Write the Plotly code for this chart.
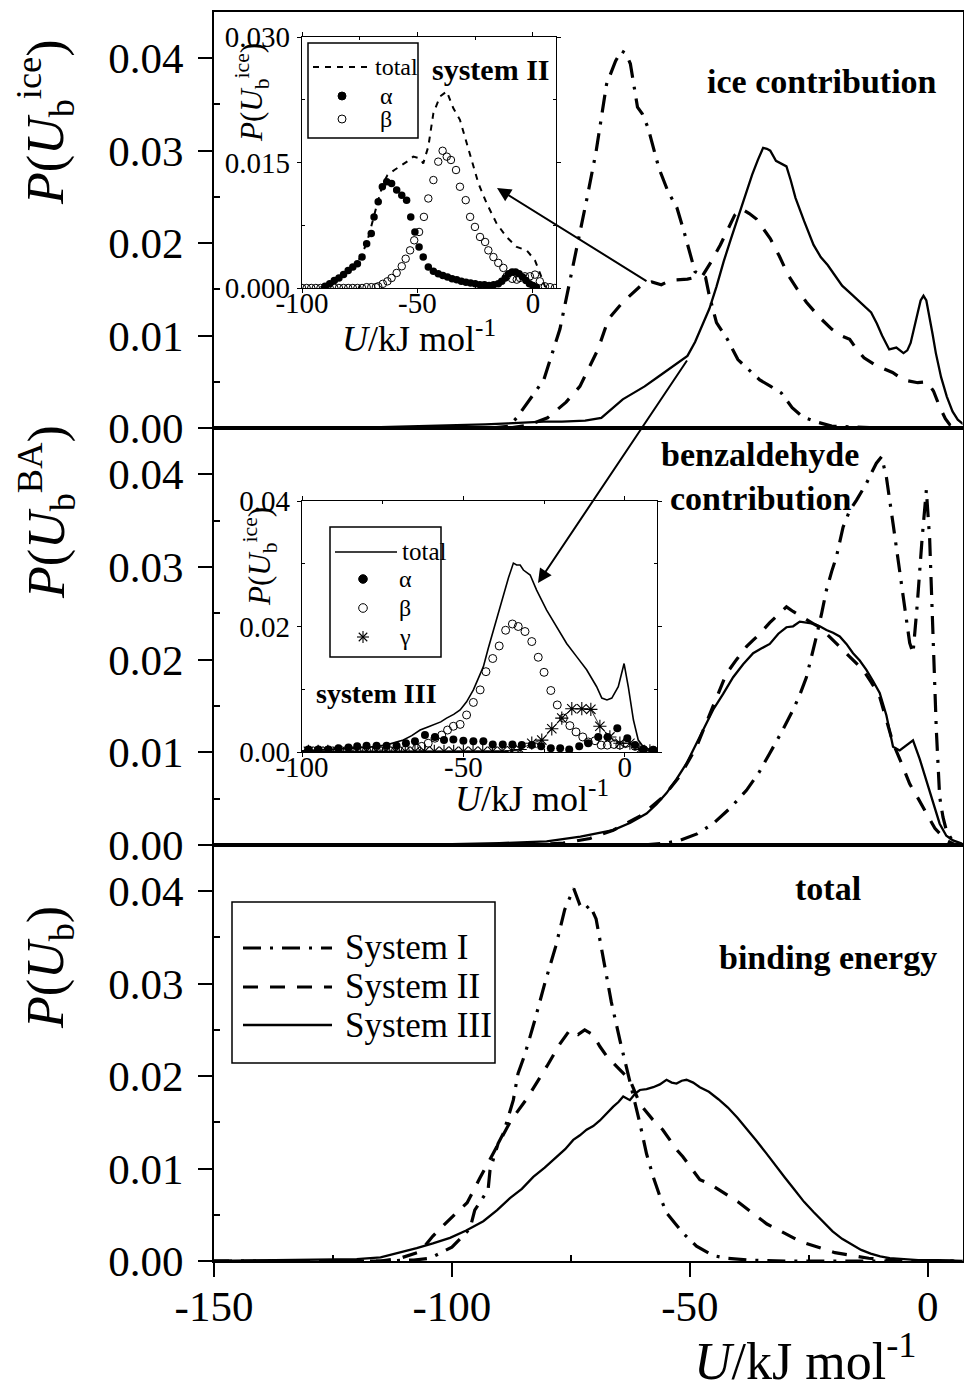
import plotly.graph_objects as go

W, H = 964, 1391
FONT = "Liberation Serif"

# ---------------- ice contribution  P(U_b^ice) ----------------
ice_I_u = [-92, -88, -86.4, -84, -80.7, -77.3, -75.4, -73.1, -71.6, -69.7, -68.6, -67.5, -65.6, -64.4,
           -63.4, -62.5, -61.0, -60.0, -58.8, -57.5, -56.5, -54.6, -52.7, -51.2, -50.0, -48.9, -46.7,
           -45.9, -44.4, -42.1, -39.9, -37.5, -35.3, -33.0, -30.8, -28.5, -26.3, -23.0, -20.2, -15.0,
           -10.0, -5.0, 0.0, 5.0, 7.5]
ice_I_p = [0, 0.0002, 0.0011, 0.0028, 0.0052, 0.0107, 0.0154, 0.0209, 0.0249, 0.0299, 0.0336, 0.0372,
           0.0397, 0.0408, 0.0405, 0.0394, 0.0347, 0.0340, 0.0325, 0.0300, 0.0281, 0.0256, 0.0238, 0.0212,
           0.0190, 0.0169, 0.0163, 0.0143, 0.0114, 0.0096, 0.0074, 0.0062, 0.0052, 0.0045, 0.0038, 0.0022,
           0.0012, 0.0006, 0.0002, 0.0001, 0, 0, 0, 0, 0]

ice_II_u = [-88, -84, -79.9, -76, -73.1, -69.3, -67.1, -64.1, -60.3, -58.0, -56, -53.9, -50.5, -47.3,
            -45.5, -43.6, -42, -40.6, -39.1, -37.5, -36, -34.6, -33.1, -31.2, -29.3, -27.4, -25.5, -22.8,
            -20.2, -18.3, -16.4, -14.9, -13.4, -11, -8.9, -7.4, -5.1, -3.5, -2.1, -0.2, 1.2, 2.5, 3.7,
            4.7, 6, 7.5]
ice_II_p = [0, 0.0003, 0.0011, 0.0028, 0.0045, 0.0085, 0.0118, 0.0136, 0.0154, 0.0158, 0.0155, 0.0160,
            0.0161, 0.0165, 0.0180, 0.0198, 0.0215, 0.0230, 0.0237, 0.0232, 0.0226, 0.0216, 0.0205,
            0.0186, 0.0165, 0.0150, 0.0136, 0.0120, 0.0107, 0.0100, 0.0096, 0.0085, 0.0076, 0.0068,
            0.0063, 0.0060, 0.0052, 0.0050, 0.0049, 0.0050, 0.0040, 0.0023, 0.0010, 0.0003, 0.0001, 0]

ice_III_u = [-150, -130, -115, -105, -98.8, -93, -88.2, -84, -80.7, -76.9, -72, -68.6, -66.5, -64.1,
             -61.8, -59.5, -56.5, -53.5, -50.5, -48.9, -47.4, -45.9, -44.4, -42.9, -41.4, -39.9, -38.4,
             -36.9, -35.7, -34.6, -33.8, -33.1, -31.9, -30.8, -29.7, -28.8, -27.8, -26, -24.0, -22.5,
             -21.0, -19.5, -18.0, -16.1, -14.2, -13, -11.9, -10.7, -9.6, -8.1, -6.6, -5.1, -4.3, -3.6,
             -2.8, -2.1, -1.5, -0.9, -0.3, 0.2, 1.0, 1.7, 2.8, 4.0, 5.2, 6.3, 7.5]
ice_III_p = [0, 0, 0.0001, 0.0002, 0.0003, 0.0004, 0.0005, 0.0006, 0.0007, 0.0007, 0.0008, 0.0011,
             0.0020, 0.0031, 0.0038, 0.0045, 0.0056, 0.0067, 0.0078, 0.0093, 0.0111, 0.0129, 0.0153,
             0.0180, 0.0204, 0.0227, 0.0252, 0.0274, 0.0290, 0.0303, 0.0302, 0.0300, 0.0289, 0.0286,
             0.0283, 0.0268, 0.0249, 0.0224, 0.0198, 0.0185, 0.0176, 0.0165, 0.0154, 0.0145, 0.0136,
             0.0131, 0.0125, 0.0113, 0.0100, 0.0085, 0.0087, 0.0081, 0.0084, 0.0092, 0.0108, 0.0125,
             0.0138, 0.0143, 0.0138, 0.0125, 0.0102, 0.0081, 0.0055, 0.0034, 0.0018, 0.0009, 0.0004]

# ---------------- benzaldehyde contribution  P(U_b^BA) ----------------
ba_I_u = [-60, -55, -52.1, -48.5, -45.1, -41.5, -38.1, -35.5, -33.2, -30.7, -28.3, -26.9, -25.5, -24.4,
          -23.4, -22.3, -21.3, -20.2, -19.2, -17.8, -16.4, -15.0, -13.9, -12.9, -11.8, -10.8, -9.7,
          -8.7, -7.3, -5.9, -4.5, -3.8, -3.1, -2.2, -1.2, -0.3, 0.4, 1.1, 1.8, 2.5, 3.2, 3.9, 5.0, 6.0,
          7.5]
ba_I_p = [0, 0.0002, 0.0005, 0.0012, 0.0023, 0.0040, 0.0059, 0.0078, 0.0099, 0.0122, 0.0146, 0.0162,
          0.0181, 0.0203, 0.0225, 0.0250, 0.0275, 0.0295, 0.0311, 0.0343, 0.0361, 0.0372, 0.0382, 0.0390,
          0.0402, 0.0412, 0.0419, 0.0397, 0.0347, 0.0297, 0.0246, 0.0218, 0.0207, 0.0260, 0.0330, 0.0383,
          0.0330, 0.0232, 0.0124, 0.0052, 0.0030, 0.0016, 0.0006, 0.0002, 0]

ba_II_u = [-85, -80, -76.6, -71, -66.1, -60.5, -55.6, -52, -48.6, -45.5, -42.3, -40.2, -38.1, -36.7,
           -35.3, -33.2, -31.1, -29.7, -28.3, -26.2, -24.1, -22.7, -20.6, -18.5, -16, -13.6, -11.8,
           -10.1, -8.7, -7.3, -5.5, -3.8, -2.0, -0.3, 1.5, 3.9, 5.5, 7.5]
ba_II_p = [0, 0.0001, 0.0002, 0.0007, 0.0016, 0.0031, 0.0052, 0.0075, 0.0106, 0.0145, 0.0185, 0.0200,
           0.0214, 0.0221, 0.0228, 0.0240, 0.0250, 0.0257, 0.0252, 0.0245, 0.0239, 0.0235, 0.0225,
           0.0214, 0.0201, 0.0189, 0.0175, 0.0160, 0.0135, 0.0110, 0.0088, 0.0066, 0.0050, 0.0034,
           0.0018, 0.0005, 0.0001, 0]

ba_III_u = [-150, -120, -100, -90, -80.1, -73, -66.1, -62.5, -59.1, -57, -54.9, -52.8, -50.7, -47.9,
            -45.1, -43, -40.9, -38.8, -36.7, -35, -33.2, -31.4, -29.7, -28.3, -26.9, -25.5, -24.1,
            -22.7, -21.3, -19.9, -18.5, -17.1, -15.7, -14.3, -12.9, -11.5, -10.1, -8.7, -7.3, -5.9,
            -4.5, -3.1, -1.7, -0.3, 1.1, 2.5, 3.9, 5.3, 7.5]
ba_III_p = [0, 0, 0.0001, 0.0002, 0.0004, 0.0009, 0.0016, 0.0024, 0.0034, 0.0044, 0.0056, 0.0071,
            0.0088, 0.0117, 0.0146, 0.0163, 0.0181, 0.0195, 0.0207, 0.0212, 0.0217, 0.0228, 0.0235,
            0.0236, 0.0241, 0.0240, 0.0239, 0.0236, 0.0232, 0.0229, 0.0225, 0.0217, 0.0207, 0.0199,
            0.0189, 0.0177, 0.0164, 0.0140, 0.0106, 0.0102, 0.0108, 0.0113, 0.0093, 0.0070, 0.0045,
            0.0023, 0.0010, 0.0005, 0.0001]

# ---------------- total binding energy  P(U_b) ----------------
tot_I_u = [-150, -115, -108, -104.6, -100, -96.2, -95.2, -92.4, -92.0, -90.3, -89.2, -87.1, -86.1,
           -84.7, -82.6, -80.5, -78.2, -76.3, -74.4, -73.1, -72.1, -71.0, -69.7, -67.9, -66.5, -64.7,
           -61.9, -60.5, -59.1, -57.7, -56.3, -54.9, -53.0, -51.4, -48.6, -45.2, -42.4, -37.4, -30.0, 7.5]
tot_I_p = [0, 0, 0.0001, 0.0003, 0.0015, 0.0035, 0.0055, 0.0077, 0.0098, 0.0127, 0.0138, 0.0174, 0.0203,
           0.0223, 0.0260, 0.0300, 0.0340, 0.0380, 0.0403, 0.0385, 0.0380, 0.0385, 0.0370, 0.0320,
           0.0280, 0.0239, 0.0181, 0.0149, 0.0116, 0.0091, 0.0070, 0.0052, 0.0040, 0.0030, 0.0016,
           0.0006, 0.0003, 0.0001, 0, 0]

tot_II_u = [-150, -115, -110.9, -106.7, -104.0, -101.5, -96.8, -94.1, -87.6, -84.2, -80.0, -77.3, -75.2,
            -73.5, -72.1, -70.4, -68.9, -67.4, -65.3, -62.6, -60.5, -57.8, -55.7, -52.7, -51.5, -47.9,
            -46.0, -39.9, -33.8, -26.7, -19.5, -12.4, -5.9, 7.5]
tot_II_p = [0, 0, 0.0003, 0.0010, 0.0027, 0.0040, 0.0063, 0.0090, 0.0152, 0.0176, 0.0211, 0.0235, 0.0250,
            0.0245, 0.0250, 0.0245, 0.0232, 0.0221, 0.0210, 0.0196, 0.0170, 0.0153, 0.0142, 0.0120,
            0.0113, 0.0088, 0.0084, 0.0064, 0.0040, 0.0021, 0.0009, 0.0003, 0, 0]

tot_III_u = [-150, -130, -120, -115, -111, -107.4, -104, -100.4, -97, -93.4, -90.5, -87.8, -85.3, -82.9,
             -80.5, -78.0, -76.2, -74.5, -73.1, -71.7, -70.3, -68.9, -67.5, -66.1, -65.0, -64.0, -62.6,
             -61.5, -60.5, -59.1, -57.7, -56.3, -54.9, -53.8, -52.8, -51.7, -50.7, -49.3, -47.9, -46.0,
             -44, -42, -40, -38, -36, -34, -32, -30, -28, -26, -24, -22, -20, -18, -16, -14, -12, -10,
             -8, -5, -2, 2, 7.5]
tot_III_p = [0, 0.0001, 0.0002, 0.0004, 0.0009, 0.0014, 0.0019, 0.0025, 0.0033, 0.0043, 0.0055, 0.0068,
             0.0078, 0.0091, 0.0101, 0.0113, 0.0121, 0.0131, 0.0136, 0.0142, 0.0146, 0.0152, 0.0160,
             0.0167, 0.0172, 0.0178, 0.0174, 0.0181, 0.0185, 0.0186, 0.0188, 0.0191, 0.0196, 0.0193,
             0.0192, 0.0195, 0.0196, 0.0193, 0.0188, 0.0183, 0.0175, 0.0166, 0.0155, 0.0143, 0.0130,
             0.0117, 0.0103, 0.0090, 0.0077, 0.0064, 0.0053, 0.0042, 0.0032, 0.0024, 0.0018, 0.0012,
             0.0008, 0.0005, 0.0003, 0.0002, 0.0001, 0.0001, 0]

# ---------------- inset: system II, ice contribution by site ----------------
s2_alpha_u = [-90, -88, -86, -84, -82, -80, -78, -76, -74, -72, -70, -68.8, -67, -65.2, -63.3, -61.2,
              -59, -56.8, -54.7, -52.9, -51.1, -49.3, -47.5, -45.3, -43.1, -41, -39, -37, -35, -33,
              -31, -29, -27, -25, -23, -21, -19, -17, -15, -13.5, -12, -10.5, -9, -7.5, -6, -4.5, -3,
              -1.5, 0, 1.5]
s2_alpha_p = [0.0002, 0.0005, 0.0009, 0.0012, 0.0016, 0.0021, 0.0025, 0.0029, 0.0037, 0.0053, 0.0065,
              0.0085, 0.0103, 0.0121, 0.0127, 0.0125, 0.0117, 0.0111, 0.0105, 0.0085, 0.0067, 0.0049,
              0.0037, 0.0025, 0.0020, 0.0017, 0.0015, 0.0013, 0.0011, 0.0010, 0.0008, 0.0007, 0.0006,
              0.0005, 0.0004, 0.0004, 0.0003, 0.0004, 0.0005, 0.0008, 0.0012, 0.0017, 0.0019, 0.0019,
              0.0017, 0.0013, 0.0009, 0.0005, 0.0003, 0.0001]

s2_beta_u = [-100, -98, -96, -94, -92, -90, -88, -86, -84, -82, -80, -78, -76, -74, -72, -70, -68, -67,
             -65, -63, -61.2, -59, -56.8, -55.1, -53.2, -51.4, -49.3, -47.2, -45.3, -43.1, -41, -39.1,
             -37.3, -35.5, -33.3, -31.6, -29.1, -27.2, -25.1, -22.9, -20.7, -19.3, -17.1, -15, -12.8,
             -11.4, -9, -7, -5.6, -3.5, -1.3, 0.9, 3.0, 5.2, 7.4, 9.5]
s2_beta_p = [0, 0, 0, 0, 0, 0, 0, 0, 0, 0, 0, 0, 0, 0, 0.0001, 0.0001, 0.0001, 0.0002, 0.0005, 0.0008,
             0.0012, 0.0018, 0.0026, 0.0035, 0.0045, 0.0057, 0.0067, 0.0085, 0.0107, 0.0129, 0.0151,
             0.0164, 0.0157, 0.0153, 0.0141, 0.0121, 0.0105, 0.0085, 0.0073, 0.0061, 0.0055, 0.0045,
             0.0037, 0.0030, 0.0024, 0.0014, 0.0011, 0.0010, 0.0012, 0.0014, 0.0014, 0.0016, 0.0008,
             0.0002, 0.0001, 0]

s2_total_u = [-92, -88, -84, -80, -76, -72, -69, -67, -65, -63, -60, -57.6, -54, -51.8, -49, -47.5,
              -45.3, -43.1, -40.2, -37.3, -34.5, -31.6, -28.7, -25.8, -23.6, -20, -15.7, -11.4, -7,
              -2.7, 0.9, 3.0, 5.2, 7]
s2_total_p = [0.0001, 0.0005, 0.0012, 0.0021, 0.0030, 0.0053, 0.0085, 0.0105, 0.0124, 0.0135, 0.0141,
              0.0145, 0.0152, 0.0157, 0.0155, 0.0149, 0.0169, 0.0209, 0.0229, 0.0235, 0.0215, 0.0201,
              0.0173, 0.0145, 0.0125, 0.0101, 0.0077, 0.0061, 0.0049, 0.0045, 0.0033, 0.0018, 0.0002, 0]

# ---------------- inset: system III, ice contribution by site ----------------
s3_alpha_u = [-98.0, -94.9, -91.8, -88.7, -85.6, -82.9, -80.0, -76.9, -73.8, -70.7, -67.8, -65.0, -61.9,
              -58.8, -56.0, -53.1, -50.0, -46.9, -43.8, -40.9, -37.8, -34.8, -31.9, -28.8, -25.9, -22.9,
              -20.0, -17.2, -14.1, -11.3, -8.2, -5.3, -2.3, 0.8, 3.2, 5.8, 8.9]
s3_alpha_p = [0.0004, 0.0004, 0.0004, 0.0006, 0.0007, 0.0009, 0.0010, 0.0010, 0.0010, 0.0010, 0.0014,
              0.0017, 0.0027, 0.0024, 0.0019, 0.0020, 0.0018, 0.0017, 0.0017, 0.0012, 0.0012, 0.0012,
              0.0011, 0.0011, 0.0009, 0.0006, 0.0006, 0.0004, 0.0009, 0.0014, 0.0024, 0.0024, 0.0038,
              0.0022, 0.0011, 0.0004, 0.0003]

s3_beta_u = [-98, -95, -92, -89, -86, -83, -80, -77, -74, -71, -68, -64.5, -62.9, -60.9, -58.8, -56.7,
             -54.9, -53.1, -51.0, -49.0, -46.9, -44.8, -43.0, -40.9, -38.9, -36.9, -34.8, -33.0, -30.9,
             -28.8, -26.8, -25.0, -22.9, -20.9, -19.0, -17.0, -15.1, -13.0, -11.3, -9.2, -7.3, -5.4,
             -3.3, -1.5, 0.6, 3.2, 5.8, 8.8]
s3_beta_p = [0.0003, 0.0003, 0.0003, 0.0003, 0.0003, 0.0003, 0.0003, 0.0003, 0.0003, 0.0003, 0.0003,
             0.0006, 0.0009, 0.0014, 0.0022, 0.0027, 0.0035, 0.0041, 0.0044, 0.0059, 0.0079, 0.0099,
             0.0128, 0.0149, 0.0169, 0.0194, 0.0204, 0.0200, 0.0192, 0.0176, 0.0151, 0.0127, 0.0098,
             0.0075, 0.0054, 0.0042, 0.0032, 0.0024, 0.0016, 0.0018, 0.0011, 0.0011, 0.0012, 0.0011,
             0.0014, 0.0009, 0.0004, 0.0003]

s3_gamma_u = [-98, -95, -92, -89, -86, -83, -80, -77, -74, -71, -68, -65, -62, -59, -56, -53, -50, -47,
              -44, -41, -38, -35, -32.4, -28.8, -25.7, -22.6, -19.5, -16.4, -13.3, -10.5, -7.7, -4.6,
              -1.5, 1.6, 4.7, 7.8]
s3_gamma_p = [0.0001, 0.0001, 0.0001, 0.0001, 0.0001, 0.0001, 0.0001, 0.0001, 0.0001, 0.0001, 0.0001,
              0.0001, 0.0001, 0.0001, 0.0001, 0.0001, 0.0001, 0.0001, 0.0001, 0.0001, 0.0001, 0.0002,
              0.0004, 0.0014, 0.0019, 0.0037, 0.0054, 0.0069, 0.0069, 0.0068, 0.0041, 0.0024, 0.0014,
              0.0014, 0.0004, 0.0002]

s3_total_u = [-100, -94.4, -88, -82, -78.9, -74, -68.6, -66, -63.4, -61, -59.3, -57, -55.2, -53, -51.0,
              -49, -46.9, -45.3, -43.8, -42.3, -40.7, -39.1, -37.6, -36, -34.5, -33.5, -32.4, -31.4,
              -29.3, -27.3, -24.2, -21.1, -18.0, -14.9, -11.8, -8.7, -7.1, -5.5, -4.0, -2.0, -0.2, 1.1,
              2.7, 4.2, 5.8, 8.8, 10]
s3_total_p = [0.0002, 0.0003, 0.0005, 0.0007, 0.0008, 0.0011, 0.0019, 0.0026, 0.0035, 0.0040, 0.0043,
              0.0048, 0.0054, 0.0060, 0.0067, 0.0080, 0.0099, 0.0118, 0.0136, 0.0165, 0.0194, 0.0224,
              0.0253, 0.0278, 0.0301, 0.0298, 0.0298, 0.0290, 0.0282, 0.0258, 0.0226, 0.0200, 0.0173,
              0.0152, 0.0131, 0.0104, 0.0086, 0.0083, 0.0086, 0.0104, 0.0141, 0.0104, 0.0051, 0.0019,
              0.0008, 0.0002, 0.0001]

# tick values
main_yticks = [0.00, 0.01, 0.02, 0.03, 0.04]
main_xticks = [-150, -100, -50, 0]
inset_xticks = [-100, -50, 0]
ins1_yticks = [0.000, 0.015, 0.030]
ins2_yticks = [0.00, 0.02, 0.04]


def fx(px):
    return px / W


def fy(py):
    return 1 - py / H


DASH_I = "18px,9px,3px,9px"
DASH_II = "15px,12px"
BLACK = "black"

fig = go.Figure()

panels = [
    ("x", "y", (ice_I_u, ice_I_p), (ice_II_u, ice_II_p), (ice_III_u, ice_III_p)),
    ("x2", "y2", (ba_I_u, ba_I_p), (ba_II_u, ba_II_p), (ba_III_u, ba_III_p)),
    ("x3", "y3", (tot_I_u, tot_I_p), (tot_II_u, tot_II_p), (tot_III_u, tot_III_p)),
]
for xa, ya, s1, s2, s3 in panels:
    fig.add_trace(go.Scatter(x=s3[0], y=s3[1], mode="lines", xaxis=xa, yaxis=ya, name="System III",
                             line=dict(color=BLACK, width=2.3)))
    fig.add_trace(go.Scatter(x=s2[0], y=s2[1], mode="lines", xaxis=xa, yaxis=ya, name="System II",
                             line=dict(color=BLACK, width=3.2, dash=DASH_II)))
    fig.add_trace(go.Scatter(x=s1[0], y=s1[1], mode="lines", xaxis=xa, yaxis=ya, name="System I",
                             line=dict(color=BLACK, width=3.2, dash=DASH_I)))

# inset 1 (system II)
fig.add_trace(go.Scatter(x=s2_total_u, y=s2_total_p, mode="lines", xaxis="x4", yaxis="y4",
                         line=dict(color=BLACK, width=2, dash="6px,6px")))
fig.add_trace(go.Scatter(x=s2_alpha_u, y=s2_alpha_p, mode="markers", xaxis="x4", yaxis="y4",
                         marker=dict(symbol="circle", size=7.5, color=BLACK, line=dict(width=0))))
fig.add_trace(go.Scatter(x=s2_beta_u, y=s2_beta_p, mode="markers", xaxis="x4", yaxis="y4",
                         marker=dict(symbol="circle-open", size=7.5, color=BLACK, line=dict(width=1))))

# inset 2 (system III)
fig.add_trace(go.Scatter(x=s3_total_u, y=s3_total_p, mode="lines", xaxis="x5", yaxis="y5",
                         line=dict(color=BLACK, width=1.6)))
fig.add_trace(go.Scatter(x=s3_gamma_u, y=s3_gamma_p, mode="lines+markers", xaxis="x5", yaxis="y5",
                         line=dict(color=BLACK, width=0.8),
                         marker=dict(symbol="asterisk-open", size=11, color=BLACK, line=dict(width=1.1))))
fig.add_trace(go.Scatter(x=s3_beta_u, y=s3_beta_p, mode="markers", xaxis="x5", yaxis="y5",
                         marker=dict(symbol="circle-open", size=8, color=BLACK, line=dict(width=1))))
fig.add_trace(go.Scatter(x=s3_alpha_u, y=s3_alpha_p, mode="markers", xaxis="x5", yaxis="y5",
                         marker=dict(symbol="circle", size=8, color=BLACK, line=dict(width=0))))

X_DOM = [fx(214), fx(962.5)]
X_RANGE = [-150, 7.3]


def main_x(domain_y_anchor, labels):
    d = dict(domain=X_DOM, range=X_RANGE, anchor=domain_y_anchor, showgrid=False, zeroline=False,
             showline=True, linecolor=BLACK, linewidth=2, mirror=True, fixedrange=True)
    if labels:
        d.update(tickmode="array", tickvals=main_xticks, ticktext=[str(v) for v in main_xticks],
                 ticks="outside", ticklen=14, tickwidth=2, tickcolor=BLACK, ticklabelstandoff=-8,
                 tickfont=dict(family=FONT, size=43, color=BLACK),
                 minor=dict(ticks="inside", ticklen=6, tickwidth=1.5, tickcolor=BLACK,
                            tickmode="array", tickvals=[-125, -75, -25]))
    else:
        d.update(showticklabels=False, ticks="")
    return d


def main_y(dom, anchor):
    return dict(domain=dom, range=[0, 0.045], anchor=anchor, showgrid=False, zeroline=False,
                showline=True, linecolor=BLACK, linewidth=2, mirror=True,
                tickmode="array", tickvals=main_yticks, ticktext=["%.2f" % v for v in main_yticks],
                ticks="outside", ticklen=14, tickwidth=2, tickcolor=BLACK, ticklabelstandoff=6,
                tickfont=dict(family=FONT, size=43, color=BLACK),
                minor=dict(ticks="inside", ticklen=6, tickwidth=1.5, tickcolor=BLACK,
                           tickmode="array", tickvals=[0.005, 0.015, 0.025, 0.035]),
                fixedrange=True)


def inset_axes(xdom, ydom, xanchor, yanchor, yrange, yticks, fmt, yminor):
    xa = dict(domain=xdom, range=[-100, 10], anchor=yanchor, showgrid=False, zeroline=False,
              showline=True, linecolor=BLACK, linewidth=1.2, mirror="ticks",
              tickmode="array", tickvals=inset_xticks, ticktext=[str(v) for v in inset_xticks],
              ticks="outside", ticklen=4, tickwidth=1, tickcolor=BLACK, ticklabelstandoff=-15,
              tickfont=dict(family=FONT, size=29, color=BLACK),
              minor=dict(ticks="inside", ticklen=3, tickwidth=1, tickcolor=BLACK,
                         tickmode="array", tickvals=[-75, -25]),
              fixedrange=True)
    ya = dict(domain=ydom, range=yrange, anchor=xanchor, showgrid=False, zeroline=False,
              showline=True, linecolor=BLACK, linewidth=1.2, mirror="ticks",
              tickmode="array", tickvals=yticks, ticktext=[fmt % v for v in yticks],
              ticks="outside", ticklen=4, tickwidth=1, tickcolor=BLACK, ticklabelstandoff=1,
              tickfont=dict(family=FONT, size=29, color=BLACK),
              minor=dict(ticks="inside", ticklen=3, tickwidth=1, tickcolor=BLACK,
                         tickmode="array", tickvals=yminor),
              fixedrange=True)
    return xa, ya


x4, y4 = inset_axes([fx(302), fx(556)], [fy(288), fy(37)], "x4", "y4", [0, 0.030], ins1_yticks, "%.3f",
                    [0.0075, 0.0225])
x5, y5 = inset_axes([fx(302), fx(657)], [fy(752), fy(501)], "x5", "y5", [0, 0.04], ins2_yticks, "%.2f",
                    [0.01, 0.03])

fig.update_layout(
    width=W, height=H, margin=dict(l=0, r=0, t=0, b=0),
    template="none", paper_bgcolor="white", plot_bgcolor="white", showlegend=False,
    font=dict(family=FONT, color=BLACK),
    xaxis=main_x("y", False), yaxis=main_y([fy(428), fy(12)], "x"),
    xaxis2=main_x("y2", False), yaxis2=main_y([fy(845), fy(428)], "x2"),
    xaxis3=main_x("y3", True), yaxis3=main_y([fy(1261), fy(845)], "x3"),
    xaxis4=x4, yaxis4=y4, xaxis5=x5, yaxis5=y5,
)

shapes = []
# white backgrounds of the insets
shapes.append(dict(type="rect", xref="x4", yref="y4", x0=-100, x1=10, y0=0, y1=0.030,
                   fillcolor="white", line=dict(width=0), layer="below"))
shapes.append(dict(type="rect", xref="x5", yref="y5", x0=-100, x1=10, y0=0, y1=0.04,
                   fillcolor="white", line=dict(width=0), layer="below"))


def box(x0, y0, x1, y1, w=1.5):
    shapes.append(dict(type="rect", xref="paper", yref="paper", x0=fx(x0), x1=fx(x1), y0=fy(y1),
                       y1=fy(y0), line=dict(color=BLACK, width=w), fillcolor="white"))


def seg(x0, y0, x1, y1, w, dash="solid"):
    shapes.append(dict(type="line", xref="paper", yref="paper", x0=fx(x0), x1=fx(x1), y0=fy(y0),
                       y1=fy(y1), line=dict(color=BLACK, width=w, dash=dash)))


def dot(cx, cy, r, filled):
    shapes.append(dict(type="circle", xref="paper", yref="paper", x0=fx(cx - r), x1=fx(cx + r),
                       y0=fy(cy + r), y1=fy(cy - r), line=dict(color=BLACK, width=1),
                       fillcolor=BLACK if filled else "white"))


def star(cx, cy, r):
    d = r * 0.707
    seg(cx - r, cy, cx + r, cy, 1.1)
    seg(cx, cy - r, cx, cy + r, 1.1)
    seg(cx - d, cy - d, cx + d, cy + d, 1.1)
    seg(cx - d, cy + d, cx + d, cy - d, 1.1)


# main legend
box(232, 902, 495, 1063)
seg(243, 948, 332, 948, 3.2, DASH_I)
seg(243, 987, 332, 987, 3.2, DASH_II)
seg(243, 1025, 332, 1025, 2.3)
# inset 1 legend
box(308, 43, 418, 138)
seg(313, 67, 372, 67, 2, "6px,6px")
dot(342, 96, 4, True)
dot(342, 119, 4, False)
# inset 2 legend
box(330, 527, 441, 657)
seg(335, 552, 397, 552, 1.6)
dot(363, 579, 4.3, True)
dot(363, 608, 4.3, False)
star(363, 637, 6)

ann = []


def text(px, py, s, size, xanchor="center", bold=False, angle=0):
    ann.append(dict(xref="paper", yref="paper", x=fx(px), y=fy(py), text=("<b>%s</b>" % s) if bold else s,
                    showarrow=False, xanchor=xanchor, yanchor="middle", textangle=angle,
                    font=dict(family=FONT, size=size, color=BLACK)))


# axis titles
text(46, 122, "<i>P</i>(<i>U</i><sub>b</sub><sup>ice</sup>)", 52, angle=-90)
text(46, 512, "<i>P</i>(<i>U</i><sub>b</sub><sup>BA</sup>)", 52, angle=-90)
text(50, 968, "<i>P</i>(<i>U</i><sub>b</sub>)", 52, angle=-90)
text(805, 1357, "<i>U</i>/kJ mol<sup>-1</sup>", 52)
text(419, 336, "<i>U</i>/kJ mol<sup>-1</sup>", 36)
text(532, 796, "<i>U</i>/kJ mol<sup>-1</sup>", 36)
text(252, 93, "<i>P</i>(<i>U</i><sub>b</sub><sup>ice</sup>)", 31, angle=-90)
text(260, 557, "<i>P</i>(<i>U</i><sub>b</sub><sup>ice</sup>)", 31, angle=-90)

# panel labels
text(822, 82, "ice contribution", 34, bold=True)
text(760, 455, "benzaldehyde", 34, bold=True)
text(760, 498, "contribution", 34, bold=True)
text(828, 888, "total", 34, bold=True)
text(828, 957, "binding energy", 34, bold=True)
text(491, 70, "system II", 30, bold=True)
text(376, 693, "system III", 28, bold=True)

# legend texts
text(343, 948, "System I", 35, xanchor="left")
text(343, 987, "System II", 35, xanchor="left")
text(343, 1025, "System III", 35, xanchor="left")
text(373, 67, "total", 24, xanchor="left")
text(386, 96, "α", 24)
text(386, 119, "β", 24)
text(400, 552, "total", 25, xanchor="left")
text(405, 579, "α", 24)
text(405, 608, "β", 24)
text(405, 637, "γ", 24)

# arrows linking the main curves with the insets
for hx, hy, tx, ty in [(497, 188, 648, 282), (538, 583, 688, 359)]:
    ann.append(dict(xref="paper", yref="paper", x=fx(hx), y=fy(hy), ax=tx - hx, ay=ty - hy,
                    axref="pixel", ayref="pixel", text="", showarrow=True, arrowhead=2,
                    arrowsize=1.4, arrowwidth=2, arrowcolor=BLACK, standoff=0, startstandoff=0))

fig.update_layout(shapes=shapes, annotations=ann)
fig.write_html("out.html")
